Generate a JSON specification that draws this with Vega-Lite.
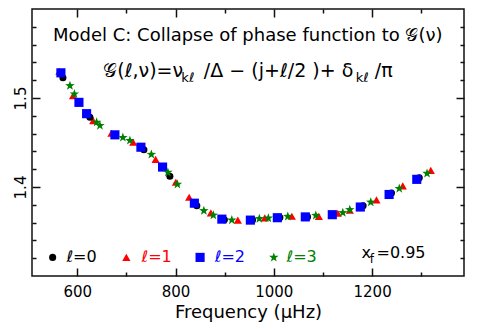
{
  "$schema": "https://vega.github.io/schema/vega-lite/v6.json",
  "width": 432,
  "height": 267,
  "autosize": {"type": "none"},
  "padding": {"left": 32, "top": 9, "right": 13, "bottom": 53},
  "background": "white",
  "config": {"view": {"stroke": "#111", "strokeWidth": 1.5}, "font": "DejaVu Sans"},
  "resolve": {"axis": {"x": "independent", "y": "independent"}},
  "layer": [
    {
      "data": {"values": [
        {"l": "1", "f": 563.8, "g": 1.5300}, {"l": "1", "f": 591.3, "g": 1.5026}, {"l": "1", "f": 632.5, "g": 1.4746},
        {"l": "1", "f": 669.6, "g": 1.4604}, {"l": "1", "f": 713.9, "g": 1.4503}, {"l": "1", "f": 759.5, "g": 1.4310},
        {"l": "1", "f": 800.7, "g": 1.4053}, {"l": "1", "f": 827.8, "g": 1.3885}, {"l": "1", "f": 871.9, "g": 1.3709},
        {"l": "1", "f": 926.8, "g": 1.3628}, {"l": "1", "f": 981.7, "g": 1.3653}, {"l": "1", "f": 1036.7, "g": 1.3672},
        {"l": "1", "f": 1091.6, "g": 1.3670}, {"l": "1", "f": 1130.2, "g": 1.3706}, {"l": "1", "f": 1154.6, "g": 1.3739},
        {"l": "1", "f": 1208.9, "g": 1.3855}, {"l": "1", "f": 1262.4, "g": 1.4013}, {"l": "1", "f": 1319.4, "g": 1.4187},
        {"l": "0", "f": 570.9, "g": 1.5227}, {"l": "0", "f": 625.8, "g": 1.4783}, {"l": "0", "f": 735.7, "g": 1.4418},
        {"l": "0", "f": 788.5, "g": 1.4120}, {"l": "0", "f": 843.4, "g": 1.3790}, {"l": "0", "f": 899.4, "g": 1.3633},
        {"l": "0", "f": 956.7, "g": 1.3628}, {"l": "0", "f": 1012.3, "g": 1.3658}, {"l": "0", "f": 1068.6, "g": 1.3664},
        {"l": "0", "f": 1181.7, "g": 1.3790}, {"l": "0", "f": 1239.4, "g": 1.3933}, {"l": "0", "f": 1296.0, "g": 1.4103},
        {"l": "2", "f": 566.8, "g": 1.5283}, {"l": "2", "f": 603.5, "g": 1.4951}, {"l": "2", "f": 619.1, "g": 1.4824},
        {"l": "2", "f": 676.7, "g": 1.4586}, {"l": "2", "f": 729.6, "g": 1.4447}, {"l": "2", "f": 773.7, "g": 1.4224},
        {"l": "2", "f": 838.4, "g": 1.3818}, {"l": "2", "f": 894.3, "g": 1.3639}, {"l": "2", "f": 952.3, "g": 1.3628},
        {"l": "2", "f": 1007.2, "g": 1.3655}, {"l": "2", "f": 1064.1, "g": 1.3664}, {"l": "2", "f": 1119.0, "g": 1.3689},
        {"l": "2", "f": 1176.0, "g": 1.3775}, {"l": "2", "f": 1234.6, "g": 1.3916}, {"l": "2", "f": 1290.9, "g": 1.4086},
        {"l": "3", "f": 585.2, "g": 1.5138}, {"l": "3", "f": 594.3, "g": 1.5045}, {"l": "3", "f": 639.5, "g": 1.4727},
        {"l": "3", "f": 646.2, "g": 1.4690}, {"l": "3", "f": 692.9, "g": 1.4556}, {"l": "3", "f": 707.2, "g": 1.4522},
        {"l": "3", "f": 750.9, "g": 1.4366}, {"l": "3", "f": 784.5, "g": 1.4164}, {"l": "3", "f": 803.8, "g": 1.4030},
        {"l": "3", "f": 857.7, "g": 1.3734}, {"l": "3", "f": 877.0, "g": 1.3683}, {"l": "3", "f": 914.6, "g": 1.3628},
        {"l": "3", "f": 970.6, "g": 1.3644}, {"l": "3", "f": 988.9, "g": 1.3650}, {"l": "3", "f": 1028.5, "g": 1.3669},
        {"l": "3", "f": 1085.5, "g": 1.3680}, {"l": "3", "f": 1140.4, "g": 1.3711}, {"l": "3", "f": 1154.6, "g": 1.3745},
        {"l": "3", "f": 1197.3, "g": 1.3829}, {"l": "3", "f": 1255.3, "g": 1.3982}, {"l": "3", "f": 1311.8, "g": 1.4153}
      ]},
      "mark": {"type": "point", "filled": true, "opacity": 1, "strokeWidth": 0},
      "encoding": {
        "x": {"field": "f", "type": "quantitative", "scale": {"domain": [508, 1387], "nice": false, "zero": false},
          "axis": {"orient": "bottom", "values": [600, 700, 800, 900, 1000, 1100, 1200, 1300], "format": "d",
            "labelExpr": "datum.value % 200 === 0 ? datum.label : ''",
            "tickSize": {"condition": {"test": "datum.value % 200 === 0", "value": -8}, "value": -4},
            "tickColor": "#111", "tickWidth": 1.5, "domain": false, "grid": false,
            "labelPadding": 16, "labelFontSize": 15, "labelColor": "#000", "labelFont": "DejaVu Sans",
            "labelFlush": false, "labelOverlap": false,
            "title": "Frequency (μHz)", "titleFontSize": 18, "titleFontWeight": "normal", "titleFont": "DejaVu Sans",
            "titlePadding": 0, "titleColor": "#000"}},
        "y": {"field": "g", "type": "quantitative", "scale": {"domain": [1.3, 1.6], "nice": false, "zero": false},
          "axis": {"orient": "left", "values": [1.32, 1.34, 1.36, 1.38, 1.4, 1.42, 1.44, 1.46, 1.48, 1.5, 1.52, 1.54, 1.56, 1.58],
            "format": ".1f",
            "labelExpr": "abs(datum.value*10 - round(datum.value*10)) < 0.01 ? datum.label : ''",
            "tickSize": {"condition": {"test": "abs(datum.value*10 - round(datum.value*10)) < 0.01", "value": -8}, "value": -4},
            "tickColor": "#111", "tickWidth": 1.5, "domain": false, "grid": false,
            "labelAngle": -90, "labelAlign": "center", "labelBaseline": "alphabetic",
            "labelPadding": 15, "labelFontSize": 15, "labelColor": "#000", "labelFont": "DejaVu Sans",
            "labelFlush": false, "labelOverlap": false, "title": null}},
        "shape": {"field": "l", "type": "nominal", "scale": {"domain": ["0", "1", "2", "3"], "range": ["circle", "triangle-up", "square", "M0,-1L0.235,-0.324L0.951,-0.309L0.380,0.124L0.588,0.809L0,0.4L-0.588,0.809L-0.380,0.124L-0.951,-0.309L-0.235,-0.324Z"]}, "legend": null},
        "color": {"field": "l", "type": "nominal", "scale": {"domain": ["0", "1", "2", "3"], "range": ["#000000", "#ff0000", "#0000ff", "#008000"]}, "legend": null},
        "size": {"field": "l", "type": "ordinal", "scale": {"domain": ["0", "1", "2", "3"], "range": [50, 100, 50, 150]}, "legend": null}
      }
    },
    {
      "data": {"values": [
        {"l": "0", "f": 550, "g": 1.3209}, {"l": "1", "f": 700, "g": 1.3209},
        {"l": "2", "f": 850, "g": 1.3209}, {"l": "3", "f": 1000, "g": 1.3209}
      ]},
      "mark": {"type": "point", "filled": true, "opacity": 1, "strokeWidth": 0},
      "encoding": {
        "x": {"field": "f", "type": "quantitative",
          "axis": {"orient": "top", "values": [600, 700, 800, 900, 1000, 1100, 1200, 1300], "labels": false,
            "tickSize": {"condition": {"test": "datum.value % 200 === 0", "value": -8}, "value": -4},
            "tickColor": "#111", "tickWidth": 1.5, "domain": false, "grid": false, "title": null}},
        "y": {"field": "g", "type": "quantitative",
          "axis": {"orient": "right", "values": [1.32, 1.34, 1.36, 1.38, 1.4, 1.42, 1.44, 1.46, 1.48, 1.5, 1.52, 1.54, 1.56, 1.58], "labels": false,
            "tickSize": {"condition": {"test": "abs(datum.value*10 - round(datum.value*10)) < 0.01", "value": -8}, "value": -4},
            "tickColor": "#111", "tickWidth": 1.5, "domain": false, "grid": false, "title": null}},
        "shape": {"field": "l", "type": "nominal", "legend": null},
        "color": {"field": "l", "type": "nominal", "legend": null},
        "size": {"field": "l", "type": "ordinal", "legend": null}
      }
    },
    {
      "data": {"values": [
        {"l": "0", "f": 578, "g": 1.3161, "t": "ℓ=0"}, {"l": "1", "f": 731, "g": 1.3161, "t": "ℓ=1"},
        {"l": "2", "f": 880, "g": 1.3161, "t": "ℓ=2"}, {"l": "3", "f": 1026, "g": 1.3161, "t": "ℓ=3"}
      ]},
      "mark": {"type": "text", "align": "left", "baseline": "alphabetic", "fontSize": 16, "font": "DejaVu Sans"},
      "encoding": {
        "x": {"field": "f", "type": "quantitative", "axis": null},
        "y": {"field": "g", "type": "quantitative", "axis": null},
        "text": {"field": "t"},
        "color": {"field": "l", "type": "nominal", "legend": null}
      }
    },
    {
      "data": {"values": [
        {"f": 1178.4, "g": 1.3206, "t": "x"}, {"f": 1208.9, "g": 1.3206, "t": "=0.95"}
      ]},
      "mark": {"type": "text", "align": "left", "baseline": "alphabetic", "fontSize": 16, "font": "DejaVu Sans", "color": "#000"},
      "encoding": {
        "x": {"field": "f", "type": "quantitative", "axis": null},
        "y": {"field": "g", "type": "quantitative", "axis": null},
        "text": {"field": "t"}
      }
    },
    {
      "data": {"values": [{"f": 1195.3, "g": 1.3142, "t": "f"}]},
      "mark": {"type": "text", "align": "left", "baseline": "alphabetic", "fontSize": 12, "font": "DejaVu Sans", "color": "#000"},
      "encoding": {
        "x": {"field": "f", "type": "quantitative", "axis": null},
        "y": {"field": "g", "type": "quantitative", "axis": null},
        "text": {"field": "t"}
      }
    },
    {
      "data": {"values": [
        {"f": 947, "g": 1.5641, "t": "Model C: Collapse of phase function to 𝒢(ν)"}
      ]},
      "mark": {"type": "text", "align": "center", "baseline": "alphabetic", "fontSize": 18, "font": "DejaVu Sans", "color": "#000"},
      "encoding": {
        "x": {"field": "f", "type": "quantitative", "axis": null},
        "y": {"field": "g", "type": "quantitative", "axis": null},
        "text": {"field": "t"}
      }
    },
    {
      "data": {"values": [
        {"f": 652.9, "g": 1.5238, "t": "𝒢(ℓ,ν)=ν"},
        {"f": 857.7, "g": 1.5238, "t": "/Δ − (j+ℓ/2 )+ δ"},
        {"f": 1205.5, "g": 1.5238, "t": "/π"}
      ]},
      "mark": {"type": "text", "align": "left", "baseline": "alphabetic", "fontSize": 19, "font": "DejaVu Sans", "color": "#000"},
      "encoding": {
        "x": {"field": "f", "type": "quantitative", "axis": null},
        "y": {"field": "g", "type": "quantitative", "axis": null},
        "text": {"field": "t"}
      }
    },
    {
      "data": {"values": [
        {"f": 811.9, "g": 1.5182, "t": "kℓ"},
        {"f": 1166.8, "g": 1.5182, "t": "kℓ"}
      ]},
      "mark": {"type": "text", "align": "left", "baseline": "alphabetic", "fontSize": 13, "font": "DejaVu Sans", "color": "#000"},
      "encoding": {
        "x": {"field": "f", "type": "quantitative", "axis": null},
        "y": {"field": "g", "type": "quantitative", "axis": null},
        "text": {"field": "t"}
      }
    }
  ]
}
